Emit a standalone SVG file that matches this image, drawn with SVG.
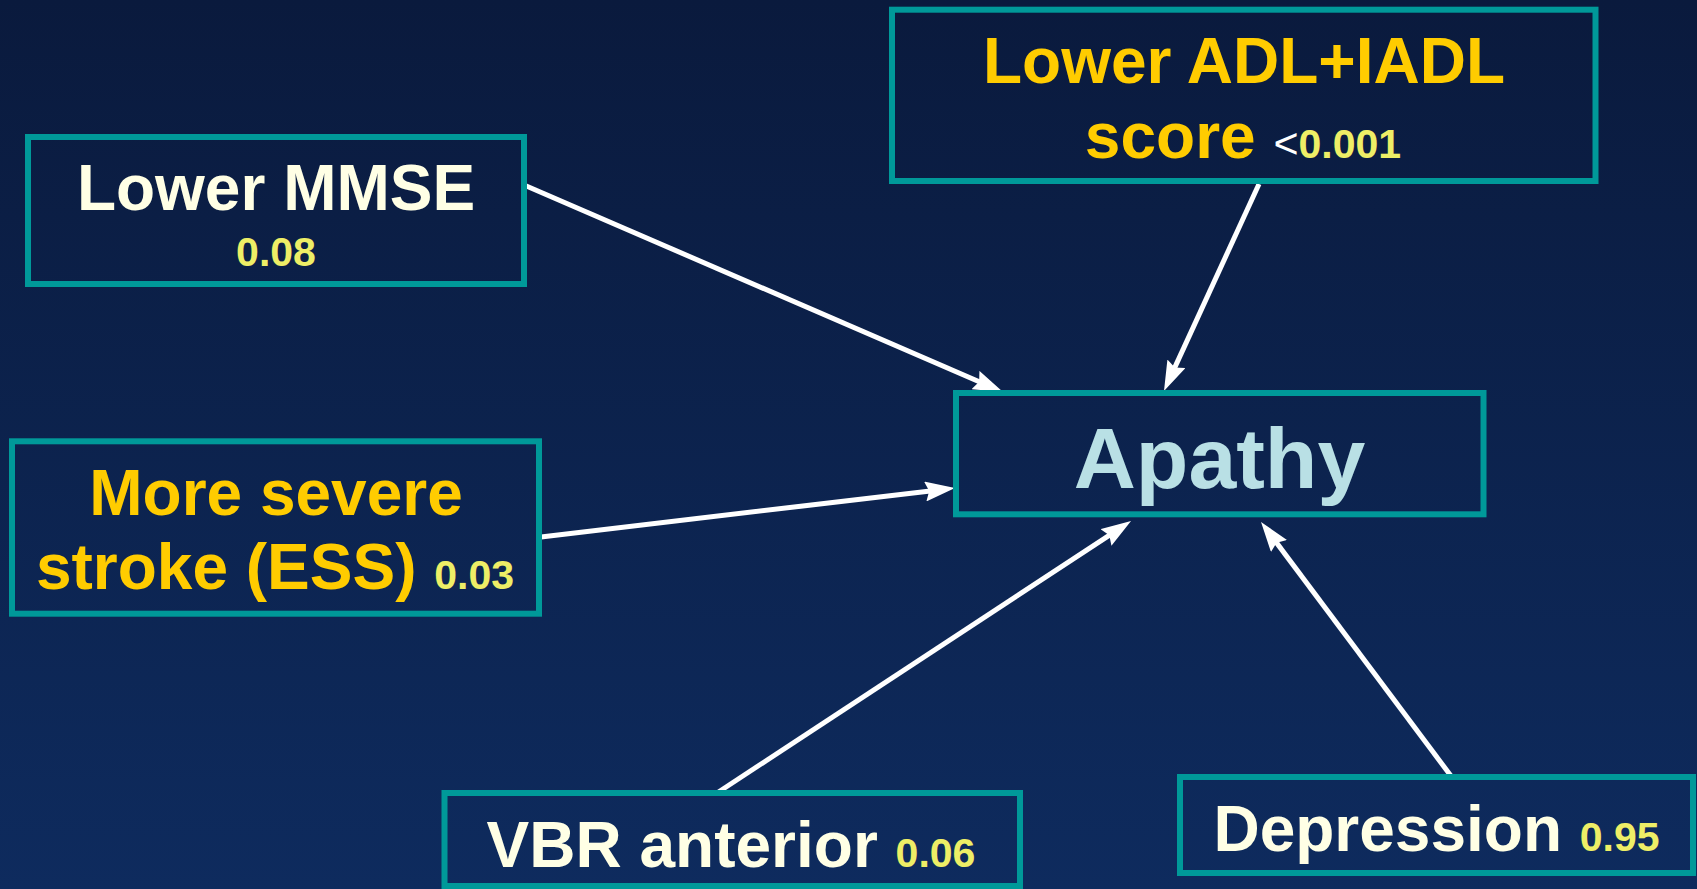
<svg xmlns="http://www.w3.org/2000/svg" width="1697" height="889" viewBox="0 0 1697 889">
  <defs>
    <linearGradient id="bg" x1="0" y1="0" x2="0" y2="1">
      <stop offset="0" stop-color="#0a1a3d"/>
      <stop offset="1" stop-color="#0e2b5e"/>
    </linearGradient>
    <marker id="arrow" viewBox="0 0 30 20" markerWidth="30" markerHeight="20" refX="18" refY="10" orient="auto" markerUnits="userSpaceOnUse">
      <path d="M0,0 L30,10 L0,20 L4,10 Z" fill="#ffffff"/>
    </marker>
    <style>
      .box { fill: none; stroke: #009999; stroke-width: 6; }
      .t { font-family: "Liberation Sans", Arial, sans-serif; font-weight: bold; text-anchor: middle; }
      .big { font-size: 64px; }
      .cream { fill: #ffffe5; }
      .gold { fill: #ffcc00; }
      .p { fill: #eeee66; font-size: 41px; }
      .lt { fill: #ffffff; font-size: 43px; font-weight: normal; }
      .conn { stroke: #ffffff; stroke-width: 5; fill: none; marker-end: url(#arrow); }
    </style>
  </defs>

  <rect x="0" y="0" width="1697" height="889" fill="url(#bg)"/>

  <!-- connectors -->
  <g id="connectors">
    <path class="conn" d="M524,185 L992,387.2"/>
    <path class="conn" d="M1259,184 L1169,380.1"/>
    <path class="conn" d="M541,537 L943.1,489.4"/>
    <path class="conn" d="M717,793 L1121,527.6"/>
    <path class="conn" d="M1451,776 L1268.2,531.6"/>
  </g>

  <!-- outcome -->
  <g id="apathy">
    <rect class="box" x="956" y="393" width="527.5" height="121.3"/>
    <text class="t" x="1219.5" y="488.3" font-size="86" fill="#b9e0e5">Apathy</text>
  </g>

  <!-- predictors -->
  <g id="mmse">
    <rect class="box" x="28" y="137" width="496" height="147"/>
    <text class="t big cream" x="276" y="210">Lower MMSE</text>
    <text class="t p" x="276" y="266">0.08</text>
  </g>

  <g id="adl">
    <rect class="box" x="892" y="9.7" width="703.5" height="171.3"/>
    <text class="t big gold" x="1244" y="83">Lower ADL+IADL</text>
    <text class="t" x="1243" y="158"><tspan class="big gold">score </tspan><tspan class="lt">&lt;</tspan><tspan class="p">0.001</tspan></text>
  </g>

  <g id="ess">
    <rect class="box" x="12" y="441.3" width="527" height="172.4"/>
    <text class="t big gold" x="276" y="515">More severe</text>
    <text class="t" x="275" y="589.3"><tspan class="big gold">stroke (ESS) </tspan><tspan class="p">0.03</tspan></text>
  </g>

  <g id="vbr">
    <rect class="box" x="444.5" y="793" width="575.5" height="93"/>
    <text class="t" x="731" y="867"><tspan class="big cream">VBR anterior </tspan><tspan class="p">0.06</tspan></text>
  </g>

  <g id="depression">
    <rect class="box" x="1180" y="777" width="513" height="96"/>
    <text class="t" x="1436.5" y="850.7"><tspan class="big cream">Depression </tspan><tspan class="p">0.95</tspan></text>
  </g>
</svg>
